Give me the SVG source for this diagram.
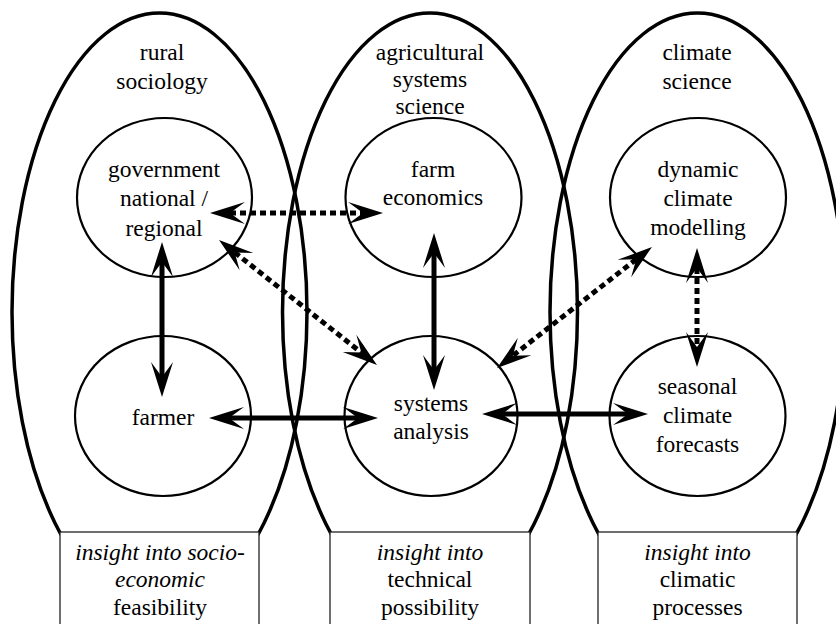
<svg xmlns="http://www.w3.org/2000/svg" width="836" height="624" viewBox="0 0 836 624">
<defs>
<style>
.big{fill:none;stroke:#000;stroke-width:3.5}
.node{fill:none;stroke:#000;stroke-width:2.2}
.box{fill:#fff;stroke:#222;stroke-width:1.3}
text{font-family:'Liberation Serif',Tinos,'Times New Roman',Times,'Nimbus Roman','Nimbus Roman No9 L',FreeSerif,'DejaVu Serif','Noto Serif',serif;font-size:23.5px;fill:#000;text-anchor:middle}
.it{font-style:italic}
.solid{stroke:#000;stroke-width:5;fill:none}
.dot{stroke:#000;stroke-width:5;fill:none;stroke-dasharray:6 4}
</style>
<marker id="ah" viewBox="0 0 35 22" refX="15" refY="11" markerWidth="35" markerHeight="22" markerUnits="userSpaceOnUse" orient="auto-start-reverse" overflow="visible">
<path d="M35,11 L0,0 L15,11 L0,22 Z" fill="#000"/>
</marker>
</defs>
<rect width="836" height="624" fill="#fff"/>
<g id="domains">
<g id="rural-sociology">
<ellipse class="big" cx="159.5" cy="312" rx="147.5" ry="299"/>
<text x="162" y="60">rural</text>
<text x="162" y="89">sociology</text>
</g>
<g id="agricultural-systems-science">
<ellipse class="big" cx="430" cy="312" rx="147.5" ry="299"/>
<text x="430" y="60">agricultural</text>
<text x="430" y="87">systems</text>
<text x="430" y="114">science</text>
</g>
<g id="climate-science">
<ellipse class="big" cx="697.5" cy="312" rx="147.5" ry="299"/>
<text x="697" y="60">climate</text>
<text x="697" y="89">science</text>
</g>
</g>
<g id="box-socio">
<rect class="box" x="60" y="532" width="199" height="100"/>
<text class="it" x="160" y="560">insight into socio-</text>
<text class="it" x="160" y="587">economic</text>
<text x="160" y="615">feasibility</text>
</g>
<g id="box-technical">
<rect class="box" x="330" y="532" width="200" height="100"/>
<text class="it" x="430" y="560">insight into</text>
<text x="430" y="587">technical</text>
<text x="430" y="615">possibility</text>
</g>
<g id="box-climatic">
<rect class="box" x="598" y="532" width="199" height="100"/>
<text class="it" x="697.5" y="560">insight into</text>
<text x="697.5" y="587">climatic</text>
<text x="697.5" y="615">processes</text>
</g>
<g id="government">
<ellipse class="node" cx="164.5" cy="197.5" rx="87.5" ry="79.5"/>
<text x="164" y="177">government</text>
<text x="164" y="206">national /</text>
<text x="164" y="236">regional</text>
</g>
<g id="farm-economics">
<ellipse class="node" cx="433.5" cy="197.5" rx="88" ry="79.5"/>
<text x="433" y="177">farm</text>
<text x="433" y="205">economics</text>
</g>
<g id="dynamic-climate-modelling">
<ellipse class="node" cx="698" cy="197.5" rx="88" ry="79.5"/>
<text x="698" y="177">dynamic</text>
<text x="698" y="206">climate</text>
<text x="698" y="235">modelling</text>
</g>
<g id="farmer">
<ellipse class="node" cx="163" cy="416" rx="88" ry="80"/>
<text x="163" y="425">farmer</text>
</g>
<g id="systems-analysis">
<ellipse class="node" cx="431" cy="416" rx="86.5" ry="80"/>
<text x="431" y="411">systems</text>
<text x="431" y="439">analysis</text>
</g>
<g id="seasonal-climate-forecasts">
<ellipse class="node" cx="697.5" cy="416" rx="88" ry="80"/>
<text x="697.5" y="394">seasonal</text>
<text x="697.5" y="423">climate</text>
<text x="697.5" y="452">forecasts</text>
</g>
<g id="connectors">
<line class="dot" x1="230" y1="213" x2="363" y2="213" marker-start="url(#ah)" marker-end="url(#ah)"/>
<line class="dot" x1="234.7" y1="252.4" x2="361.3" y2="352.6" marker-start="url(#ah)" marker-end="url(#ah)"/>
<line class="dot" x1="636.2" y1="259.3" x2="512.8" y2="355.7" marker-start="url(#ah)" marker-end="url(#ah)"/>
<line class="dot" x1="697" y1="268" x2="697" y2="347" marker-start="url(#ah)" marker-end="url(#ah)"/>
<line class="solid" x1="162" y1="262" x2="162" y2="377" marker-start="url(#ah)" marker-end="url(#ah)"/>
<line class="solid" x1="434" y1="253" x2="434" y2="370" marker-start="url(#ah)" marker-end="url(#ah)"/>
<line class="solid" x1="229" y1="418" x2="358" y2="418" marker-start="url(#ah)" marker-end="url(#ah)"/>
<line class="solid" x1="502" y1="414" x2="628" y2="414" marker-start="url(#ah)" marker-end="url(#ah)"/>
</g>
</svg>
